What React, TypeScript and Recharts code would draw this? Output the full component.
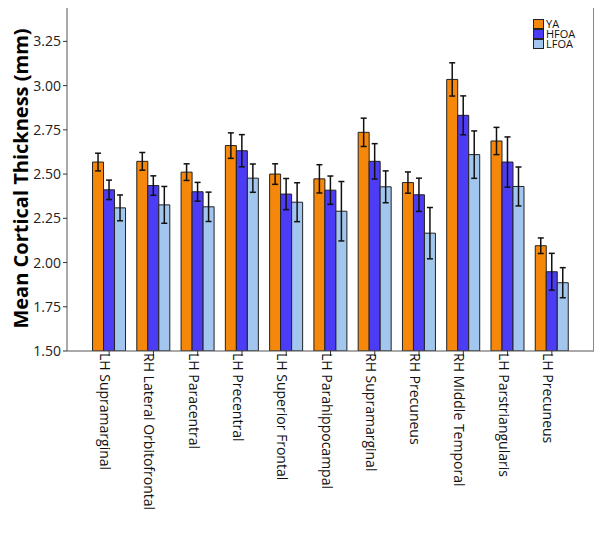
import {
  Bar,
  BarChart,
  ErrorBar,
  Legend,
  XAxis,
  YAxis,
} from "recharts";

const regions = [
  "LH Supramarginal",
  "RH Lateral Orbitofrontal",
  "LH Paracentral",
  "LH Precentral",
  "LH Superior Frontal",
  "LH Parahippocampal",
  "RH Supramarginal",
  "RH Precuneus",
  "RH Middle Temporal",
  "LH Parstriangularis",
  "LH Precuneus",
];

const ya = [2.568, 2.572, 2.511, 2.661, 2.5, 2.473, 2.736, 2.452, 3.035, 2.687, 2.095];
const yaErr = [0.05, 0.05, 0.047, 0.072, 0.058, 0.08, 0.08, 0.06, 0.094, 0.077, 0.044];
const hfoa = [2.411, 2.435, 2.4, 2.632, 2.387, 2.409, 2.572, 2.383, 2.832, 2.568, 1.948];
const hfoaErr = [0.055, 0.055, 0.053, 0.091, 0.088, 0.08, 0.1, 0.094, 0.11, 0.142, 0.104];
const lfoa = [2.309, 2.326, 2.315, 2.477, 2.341, 2.29, 2.428, 2.166, 2.61, 2.43, 1.886];
const lfoaErr = [0.073, 0.104, 0.083, 0.08, 0.11, 0.168, 0.09, 0.145, 0.134, 0.11, 0.085];

const yTicks = [1.5, 1.75, 2.0, 2.25, 2.5, 2.75, 3.0, 3.25];

const groups = [
  { key: "ya", name: "YA", color: "#f5870a" },
  { key: "hfoa", name: "HFOA", color: "#4c3cf5" },
  { key: "lfoa", name: "LFOA", color: "#a2c6ee" },
];

const data = regions.map((region, i) => ({
  region,
  ya: ya[i],
  yaErr: yaErr[i],
  hfoa: hfoa[i],
  hfoaErr: hfoaErr[i],
  lfoa: lfoa[i],
  lfoaErr: lfoaErr[i],
}));

const font = "'Open Sans', 'DejaVu Sans', sans-serif";

// chart margins, the plot frame overlay uses the same numbers
const M = { top: 6, right: 10, bottom: 0, left: 7 };
const Y_WIDTH = 60;
const X_HEIGHT = 183;

function RegionTick({ x, y, payload }: any) {
  return (
    <g transform={`translate(${x},${y})`}>
      <text
        transform="rotate(90)"
        x={-5}
        y={0}
        dy={9}
        textAnchor="start"
        fontSize={14}
        fontFamily={font}
        fill="#111"
      >
        {payload.value}
      </text>
    </g>
  );
}

function LegendBox() {
  return (
    <div style={{ fontFamily: font, fontSize: 11, color: "#111", lineHeight: "10px" }}>
      {groups.map((g) => (
        <div key={g.key} style={{ display: "flex", alignItems: "center", height: 10 }}>
          <span
            style={{
              display: "inline-block",
              width: 9,
              height: 8,
              background: g.color,
              border: "1px solid #222",
              marginRight: 2,
            }}
          />
          {g.name}
        </div>
      ))}
    </div>
  );
}

export default function App() {
  return (
    <div style={{ position: "relative", top: -8, left: -8, width: 604, height: 534, background: "#fff" }}>
      <BarChart
        width={604}
        height={534}
        data={data}
        margin={M}
        barCategoryGap="12.5%"
        barGap={0}
      >
        <XAxis
          dataKey="region"
          interval={0}
          height={X_HEIGHT}
          padding={{ left: 20, right: 20 }}
          tick={<RegionTick />}
          tickLine={{ stroke: "#333" }}
          tickSize={5}
          axisLine={{ stroke: "#555" }}
        />
        <YAxis
          width={Y_WIDTH}
          domain={[1.5, 3.45]}
          ticks={yTicks}
          allowDataOverflow
          tickFormatter={(v: number) => v.toFixed(2)}
          tick={{ fontSize: 14, fontFamily: font, fill: "#222" }}
          tickLine={{ stroke: "#333" }}
          tickSize={4}
          axisLine={{ stroke: "#555" }}
          label={({ viewBox }: any) => (
            <text
              transform={`translate(${viewBox.x + 13},${viewBox.y + viewBox.height / 2}) rotate(-90)`}
              textAnchor="middle"
              dominantBaseline="central"
              fontSize={20}
              fontWeight="bold"
              fontFamily={font}
              fill="#000"
            >
              Mean Cortical Thickness (mm)
            </text>
          )}
        />
        <Legend
          layout="vertical"
          verticalAlign="middle"
          align="center"
          content={<LegendBox />}
          wrapperStyle={{ top: 19, left: 533, width: 60 }}
        />
        {groups.map((g) => (
          <Bar
            key={g.key}
            dataKey={g.key}
            name={g.name}
            fill={g.color}
            stroke="#222"
            strokeWidth={1}
            isAnimationActive={false}
          >
            <ErrorBar dataKey={`${g.key}Err`} width={3} stroke="#111" strokeWidth={1.5} />
          </Bar>
        ))}
      </BarChart>
      <div
        style={{
          position: "absolute",
          left: M.left + Y_WIDTH,
          top: M.top,
          right: M.right,
          bottom: M.bottom + X_HEIGHT,
          borderTop: "1px solid #8a8a8a",
          borderRight: "1px solid #8a8a8a",
          pointerEvents: "none",
        }}
      />
    </div>
  );
}
